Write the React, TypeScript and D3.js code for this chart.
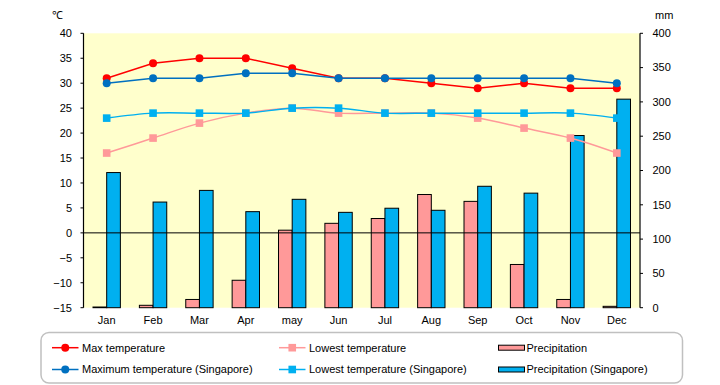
import React from "react";
import * as d3 from "d3";

const months = ["Jan", "Feb", "Mar", "Apr", "may", "Jun", "Jul", "Aug", "Sep", "Oct", "Nov", "Dec"];
const maxTemp = [31, 34, 35, 35, 33, 31, 31, 30, 29, 30, 29, 29];
const lowTemp = [16, 19, 22, 24, 25, 24, 24, 24, 23, 21, 19, 16];
const maxTempSG = [30, 31, 31, 32, 32, 31, 31, 31, 31, 31, 31, 30];
const lowTempSG = [23, 24, 24, 24, 25, 25, 24, 24, 24, 24, 24, 23];
const precip = [1, 3.5, 12, 40, 113, 123, 130, 165, 155, 63, 12, 2];
const precipSG = [197, 154, 171, 140, 158, 139, 145, 142, 177, 167, 251, 304];
const tempTicks = [-15, -10, -5, 0, 5, 10, 15, 20, 25, 30, 35, 40];
const mmTicks = [0, 50, 100, 150, 200, 250, 300, 350, 400];

const W = 720;
const H = 385;
const L = 83.5;
const R = 640;
const T = 33.3;
const B = 307.7;
const FONT = "'Liberation Sans', Arial, sans-serif";

const C_RED = "#FF0000";
const C_PINK = "#FF9999";
const C_DBLUE = "#0070C0";
const C_LBLUE = "#00B0F0";

export default function App() {
  const x = d3.scaleBand<string>().domain(months).range([L, R]);
  const yT = d3.scaleLinear().domain([-15, 40]).range([B, T]);
  const yP = d3.scaleLinear().domain([0, 400]).range([B, T]);
  const bw = x.bandwidth() * 0.295;
  const cx = (i: number) => (x(months[i]) as number) + x.bandwidth() / 2;

  const straight = d3
    .line<number>()
    .x((_, i) => cx(i))
    .y((d) => yT(d));
  const smooth = d3
    .line<number>()
    .x((_, i) => cx(i))
    .y((d) => yT(d))
    .curve(d3.curveCardinal.tension(0));

  const series = [
    { data: maxTemp, color: C_RED, shape: "circle", smooth: false },
    { data: lowTemp, color: C_PINK, shape: "square", smooth: true },
    { data: lowTempSG, color: C_LBLUE, shape: "square", smooth: true },
    { data: maxTempSG, color: C_DBLUE, shape: "circle", smooth: false },
  ];

  const marker = (shape: string, color: string, px: number, py: number, key: any) =>
    shape === "circle" ? (
      <circle key={key} cx={px} cy={py} r={4} fill={color} />
    ) : (
      <rect key={key} x={px - 3.8} y={py - 3.8} width={7.6} height={7.6} fill={color} />
    );

  const legendRows = [347.7, 369.5];

  return (
    <svg
      width={W}
      height={H}
      style={{ position: "absolute", left: 0, top: 0, background: "#fff" }}
      fontFamily={FONT}
      fontSize={11}
    >
      <rect x={L} y={T} width={R - L} height={B - T} fill="#FFFFCC" />

      {/* bars */}
      {months.map((m, i) => (
        <g key={m}>
          <rect
            x={cx(i) - bw}
            y={yP(precip[i])}
            width={bw}
            height={B - yP(precip[i])}
            fill={C_PINK}
            stroke="#000"
            strokeWidth={1}
          />
          <rect
            x={cx(i)}
            y={yP(precipSG[i])}
            width={bw}
            height={B - yP(precipSG[i])}
            fill={C_LBLUE}
            stroke="#000"
            strokeWidth={1}
          />
        </g>
      ))}

      {/* zero line */}
      <line x1={L} x2={R} y1={yT(0)} y2={yT(0)} stroke="#000" strokeWidth={1} />

      {/* axes */}
      <line x1={L} x2={L} y1={T} y2={B} stroke="#000" strokeWidth={1.2} />
      <line x1={R} x2={R} y1={T} y2={B} stroke="#000" strokeWidth={1.2} />
      {tempTicks.map((t) => (
        <g key={"lt" + t}>
          <line x1={L - 3} x2={L} y1={yT(t)} y2={yT(t)} stroke="#000" />
          <text x={72} y={yT(t)} dy="0.35em" textAnchor="end">
            {t < 0 ? "\u2212" + Math.abs(t) : t}
          </text>
        </g>
      ))}
      {mmTicks.map((t) => (
        <g key={"rt" + t}>
          <line x1={R} x2={R + 3} y1={yP(t)} y2={yP(t)} stroke="#000" />
          <text x={652.5} y={yP(t)} dy="0.35em" textAnchor="start">
            {t}
          </text>
        </g>
      ))}
      {months.map((m, i) => (
        <text key={"ml" + m} x={cx(i)} y={324} textAnchor="middle">
          {m}
        </text>
      ))}
      <text x={52} y={19}>℃</text>
      <text x={655} y={19}>mm</text>

      {/* lines */}
      {series.map((s, si) => (
        <g key={"s" + si}>
          <path
            d={(s.smooth ? smooth(s.data) : straight(s.data)) as string}
            fill="none"
            stroke={s.color}
            strokeWidth={1.5}
          />
          {s.data.map((v, i) => marker(s.shape, s.color, cx(i), yT(v), i))}
        </g>
      ))}

      {/* legend */}
      <rect x={41} y={332.5} width={641.5} height={50.5} rx={8} ry={8} fill="#fff" stroke="#C0C0C0" strokeWidth={1.5} />
      {[
        { x0: 52, label: "Max temperature", color: C_RED, shape: "circle", row: 0 },
        { x0: 52, label: "Maximum temperature (Singapore)", color: C_DBLUE, shape: "circle", row: 1 },
        { x0: 279, label: "Lowest temperature", color: C_PINK, shape: "square", row: 0 },
        { x0: 279, label: "Lowest temperature (Singapore)", color: C_LBLUE, shape: "square", row: 1 },
      ].map((d, i) => (
        <g key={"lg" + i}>
          <line x1={d.x0} x2={d.x0 + 26.5} y1={legendRows[d.row]} y2={legendRows[d.row]} stroke={d.color} strokeWidth={1.5} />
          {marker(d.shape, d.color, d.x0 + 13.25, legendRows[d.row], "m")}
          <text x={d.x0 + 30} y={legendRows[d.row]} dy="0.35em">
            {d.label}
          </text>
        </g>
      ))}
      {[
        { label: "Precipitation", color: C_PINK, row: 0 },
        { label: "Precipitation (Singapore)", color: C_LBLUE, row: 1 },
      ].map((d, i) => (
        <g key={"lp" + i}>
          <rect x={498.5} y={legendRows[d.row] - 2.5} width={26} height={5} fill={d.color} stroke="#000" strokeWidth={1} />
          <text x={526.5} y={legendRows[d.row]} dy="0.35em">
            {d.label}
          </text>
        </g>
      ))}
    </svg>
  );
}
